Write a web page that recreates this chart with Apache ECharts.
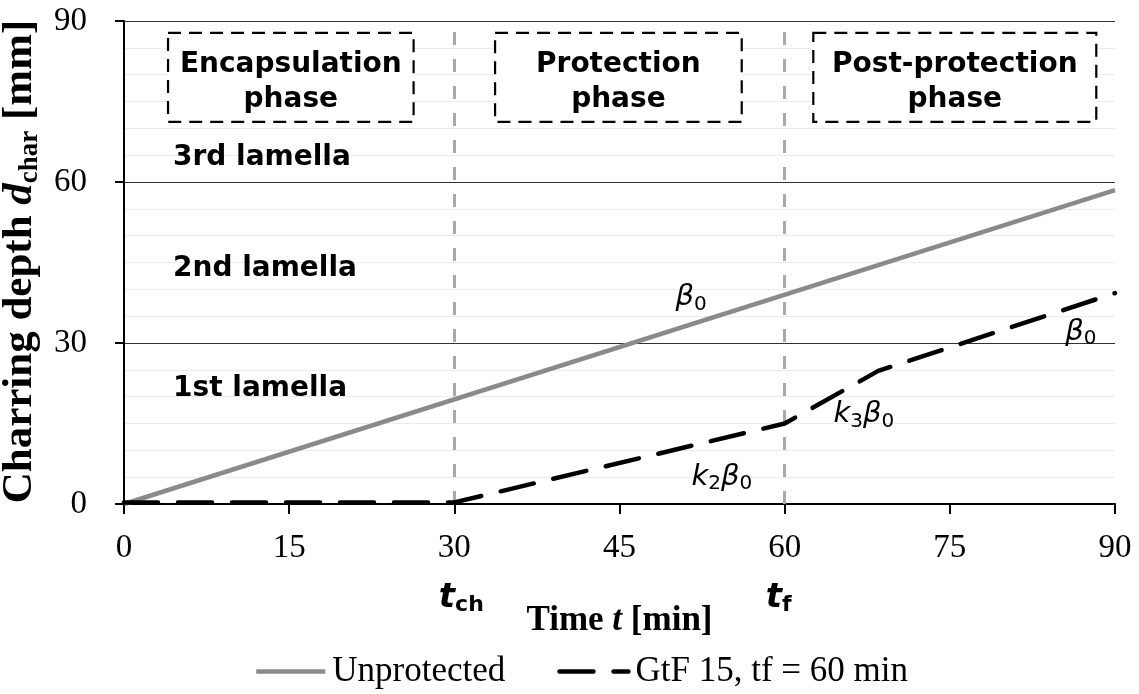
<!DOCTYPE html>
<html><head><meta charset="utf-8">
<script src="https://cdn.jsdelivr.net/npm/echarts@6/dist/echarts.min.js"></script>
<style>html,body{margin:0;padding:0;background:#fff}#c{width:1139px;height:694px}</style>
</head><body><div id="c"></div>
<script>
// ---- data ----
const seriesNames = ['Unprotected', 'GtF 15, tf = 60 min'];
const unprotectedTime = [0, 90];
const unprotectedDepth = [0, 58.5];
const gtfTime = [0, 30, 60, 68.5, 90];
const gtfDepth = [0.3, 0.3, 15, 24.8, 39.3];

const phaseNames = ['Encapsulation\nphase', 'Protection\nphase', 'Post-protection\nphase'];
const phaseStart = [4.0, 33.7, 62.6];
const phaseEnd = [26.3, 56.1, 88.3];
const phaseLow = 71.2, phaseHigh = 87.8;

const phaseTimes = [30, 60];
const phaseTimeLabels = ['{t|t}{s|ch}', '{t|t}{s|f}'];

const lamellaLabels = ['3rd lamella', '2nd lamella', '1st lamella'];
const lamellaTime = [4.45, 4.45, 4.45];
const lamellaDepth = [64.6, 43.8, 21.4];

const rateLabels = ['{i|β}{s|0}', '{i|β}{s|0}', '{i|k}{s|3}{i|β}{s|0}', '{i|k}{s|2}{i|β}{s|0}'];
const rateTime = [51.5, 86.9, 67.2, 54.3];
const rateDepth = [38.4, 32.0, 16.6, 5.0];

// ---- chart ----
const serif = 'Liberation Serif';
const sans = 'DejaVu Sans';
const chart = echarts.init(document.getElementById('c'));

const zip = (a, b) => a.map((v, i) => [v, b[i]]);

chart.setOption({
  animation: false,
  backgroundColor: '#fff',
  grid: { left: 124, right: 24, top: 21, bottom: 190, containLabel: false, outerBoundsMode: 'none' },
  legend: {
    data: seriesNames,
    left: 254, top: 654, padding: 0,
    itemWidth: 69, itemHeight: 16, itemGap: 52,
    itemStyle: { opacity: 0 },
    lineStyle: { width: 4.5 },
    textStyle: { fontFamily: serif, fontSize: 35, color: '#000', padding: [0, 0, 0, 2] }
  },
  xAxis: {
    type: 'value', min: 0, max: 90, interval: 15,
    name: 'Time {i|t} [min]', nameLocation: 'middle', nameGap: 99,
    nameTextStyle: {
      fontFamily: serif, fontSize: 35, fontWeight: 'bold', color: '#000',
      rich: { i: { fontFamily: serif, fontSize: 35, fontWeight: 'bold', fontStyle: 'italic', color: '#000' } }
    },
    axisLine: { lineStyle: { color: '#000', width: 2 } },
    axisTick: { show: true, inside: false, length: 10, lineStyle: { color: '#000', width: 2 } },
    axisLabel: { fontFamily: serif, fontSize: 33, color: '#000', margin: 28 },
    splitLine: { show: false }
  },
  yAxis: {
    type: 'value', min: 0, max: 90, interval: 30,
    name: '{b|Charring depth }{i|d}{s|char}{b| [mm]}', nameLocation: 'middle', nameGap: 67,
    nameTextStyle: {
      padding: [0, 0, 0, 2],
      rich: {
        b: { fontFamily: serif, fontSize: 43, fontWeight: 'bold', color: '#000', lineHeight: 46 },
        i: { fontFamily: serif, fontSize: 43, fontWeight: 'bold', fontStyle: 'italic', color: '#000', lineHeight: 46 },
        s: { fontFamily: serif, fontSize: 27, fontWeight: 'bold', color: '#000', lineHeight: 27, verticalAlign: 'bottom' }
      }
    },
    axisLine: { show: true, lineStyle: { color: '#000', width: 2 } },
    axisTick: { show: true, inside: false, length: 9, lineStyle: { color: '#000', width: 2 } },
    axisLabel: { fontFamily: serif, fontSize: 33, color: '#000', margin: 37 },
    splitLine: { show: true, lineStyle: { color: '#333', width: 1.2 } },
    minorTick: { show: false, splitNumber: 6 },
    minorSplitLine: { show: true, lineStyle: { color: '#ececec', width: 1 } }
  },
  series: [
    {
      name: seriesNames[0], type: 'line', data: zip(unprotectedTime, unprotectedDepth),
      showSymbol: false, symbol: 'none', z: 3,
      lineStyle: { color: '#8a8a8a', width: 4.5 },
      itemStyle: { color: '#8a8a8a' },
      markLine: {
        silent: true, symbol: 'none', z: 1,
        lineStyle: { color: '#a9a9a9', width: 3, type: [13, 14] },
        label: {
          show: true, position: 'start', distance: 76,
          rich: {
            t: { fontFamily: sans, fontSize: 34, fontWeight: 'bold', fontStyle: 'italic', color: '#000', lineHeight: 36 },
            s: { fontFamily: sans, fontSize: 22, fontWeight: 'bold', color: '#000', lineHeight: 22, verticalAlign: 'bottom' }
          }
        },
        data: phaseTimes.map((t, i) => ({
          xAxis: t,
          label: { formatter: phaseTimeLabels[i], padding: i === 0 ? [0, 0, 0, 14] : [0, 12, 0, 0] }
        }))
      }
    },
    {
      name: seriesNames[1], type: 'line', data: zip(gtfTime, gtfDepth),
      showSymbol: false, symbol: 'none', z: 4,
      lineStyle: { color: '#000', width: 4.5, type: [34, 20], cap: 'round' },
      itemStyle: { color: '#000' },
      markArea: {
        silent: true,
        itemStyle: { color: '#fff', borderColor: '#000', borderWidth: 2.2, borderType: [13, 8] },
        label: {
          show: true, position: 'inside', fontFamily: sans, fontSize: 28, fontWeight: 'bold',
          color: '#000', lineHeight: 35, align: 'center', offset: [0, 5]
        },
        data: phaseNames.map((n, i) => [
          { name: n, xAxis: phaseStart[i], yAxis: phaseHigh },
          { xAxis: phaseEnd[i], yAxis: phaseLow }
        ])
      }
    },
    {
      name: 'lamellae', type: 'scatter', silent: true, z: 5,
      symbolSize: 0, itemStyle: { color: '#000' },
      data: lamellaLabels.map((n, i) => ({ value: [lamellaTime[i], lamellaDepth[i]], name: n })),
      label: {
        show: true, position: 'right', distance: 0, formatter: p => p.name, opacity: 1,
        fontFamily: sans, fontSize: 28, fontWeight: 'bold', color: '#000'
      }
    },
    {
      name: 'rates', type: 'scatter', silent: true, z: 5,
      symbolSize: 0, itemStyle: { color: '#000' },
      data: rateLabels.map((n, i) => ({ value: [rateTime[i], rateDepth[i]], name: n })),
      label: {
        show: true, position: 'inside', formatter: p => p.name, opacity: 1,
        rich: {
          i: { fontFamily: sans, fontSize: 29, fontStyle: 'italic', color: '#000', lineHeight: 34 },
          s: { fontFamily: sans, fontSize: 20, color: '#000', lineHeight: 20, verticalAlign: 'bottom' }
        }
      }
    }
  ]
});
</script>
</body></html>
